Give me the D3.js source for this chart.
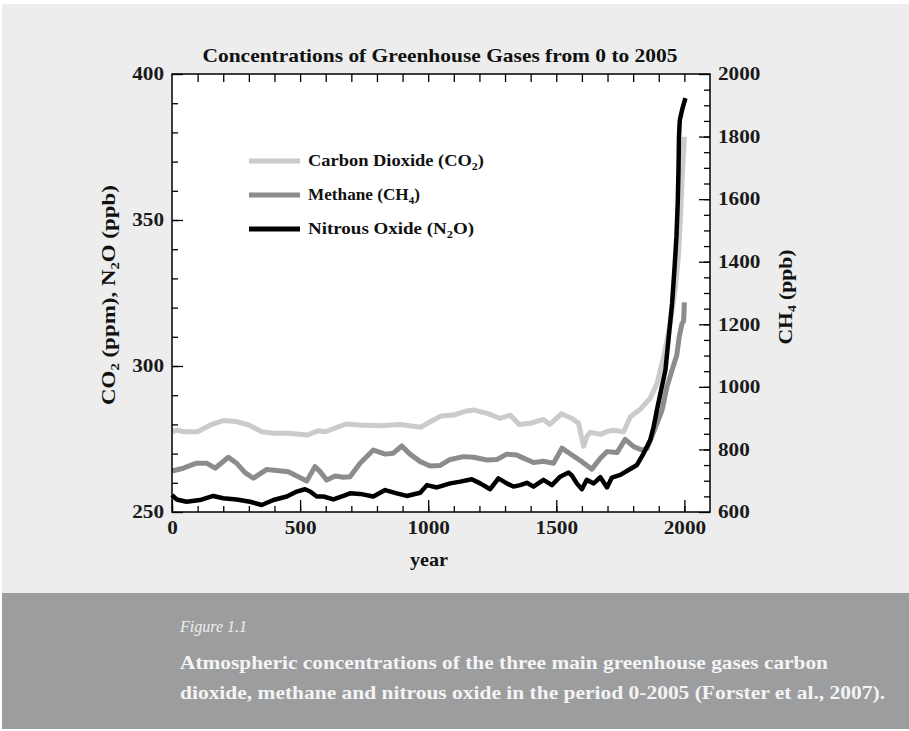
<!DOCTYPE html>
<html>
<head>
<meta charset="utf-8">
<script src="https://cdn.jsdelivr.net/npm/d3@7"></script>
<style>
  body { margin: 0; background: #ffffff; }
  svg { display: block; }
  .serif { font-family: "Liberation Serif", "DejaVu Serif", serif; }
</style>
</head>
<body>
<div id="chart"></div>
<script>
// CO2 in ppm (left axis)
const co2Years = [0,20,50,100,150,200,250,300,350,400,450,500,530,570,600,650,680,730,810,890,970,1010,1050,1100,1150,1180,1230,1280,1320,1355,1400,1450,1475,1520,1560,1587,1600,1607,1620,1632,1672,1700,1724,1763,1789,1828,1867,1893,1906,1919,1945,1965,1978,1984,1991,2000];
const co2Values = [277.5,278,277.5,277.5,279.8,281.3,281,279.8,277.5,277,277,276.6,276.4,277.8,277.5,279.2,280.1,279.8,279.5,280,279,281,282.9,283.2,284.6,284.9,283.8,282.1,283.2,280,280.4,281.7,280,283.6,282.1,280.4,275,272.5,276,277.3,276.6,277.6,278,277.5,282.6,285.2,289,294,298.6,303,314.7,327,338.7,350,363.7,378.5];

// CH4 in ppb (right axis)
const ch4Years = [0,44,96,135,168,220,252,285,318,370,409,454,493,526,558,578,604,637,669,695,734,786,832,864,897,929,969,1008,1047,1086,1138,1177,1229,1268,1307,1346,1359,1411,1450,1489,1522,1561,1600,1639,1672,1698,1737,1769,1802,1834,1854,1873,1893,1913,1932,1952,1970,1980,1991,1997,2000];
const ch4Values = [731,740,756,756,740,775,756,726,708,736,733,729,713,699,745,729,702,715,711,713,756,798,785,788,811,785,761,747,749,768,777,775,766,768,785,782,777,758,762,756,804,782,761,737,772,793,790,832,809,798,803,841,883,926,1000,1054,1100,1160,1203,1210,1270];

// N2O in ppb (left axis)
const n2oYears = [0,18,57,109,161,200,252,305,350,396,448,487,519,539,565,591,630,669,695,734,786,832,877,916,969,995,1034,1086,1125,1170,1203,1242,1274,1307,1333,1359,1385,1411,1450,1483,1515,1548,1561,1580,1600,1619,1646,1672,1698,1717,1750,1782,1815,1841,1867,1880,1893,1926,1939,1952,1961,1969,1974,1977,1979,1982,1991,2004];
const n2oValues = [255.8,254.3,253.5,254.1,255.5,254.7,254.3,253.5,252.4,254.1,255.3,257,257.8,257,255.3,255.3,254.3,255.5,256.4,256.2,255.3,257.5,256.4,255.5,256.6,259.2,258.4,259.8,260.4,261.2,259.8,257.8,261.5,259.8,258.7,259.2,260,258.7,261,259.2,262.1,263.5,262.5,259.8,257.8,261,259.8,261.9,258.4,261.8,262.7,264.4,266.1,270.1,274.7,279.2,285,298.6,310,321.5,332.9,344.3,355.7,367.1,378.5,384.2,387.7,391.7];

const seriesNames = ['Carbon Dioxide (CO|2|)', 'Methane (CH|4|)', 'Nitrous Oxide (N|2|O)'];
const seriesColors = ['#cbcbcb', '#8c8c8c', '#000000'];

const titleText = 'Concentrations of Greenhouse Gases from 0 to 2005';
const xLabels = [0, 500, 1000, 1500, 2000];
const leftLabels = [250, 300, 350, 400];
const rightLabels = [600, 800, 1000, 1200, 1400, 1600, 1800, 2000];
const figureLabel = 'Figure 1.1';
const captionLines = [
  'Atmospheric concentrations of the three main greenhouse gases carbon',
  'dioxide, methane and nitrous oxide in the period 0-2005 (Forster et al., 2007).'
];

const W = 909, H = 731;
const margin = { top: 74, right: 199, bottom: 219, left: 172 };
const width = W - margin.left - margin.right;
const height = H - margin.top - margin.bottom;

const svg = d3.select('#chart').append('svg')
  .attr('width', W).attr('height', H)
  .attr('class', 'serif');

// stretch text to the width the wider book face takes
const fit = (sel, len) => sel.attr('textLength', len).attr('lengthAdjust', 'spacingAndGlyphs');

// backgrounds
svg.append('rect').attr('x', 2).attr('y', 4).attr('width', W - 2).attr('height', 589).attr('fill', '#ecedec');
svg.append('rect').attr('x', 2).attr('y', 593).attr('width', W - 2).attr('height', 136).attr('fill', '#9c9d9f');

const chart = svg.append('g').attr('transform', `translate(${margin.left},${margin.top})`);
chart.append('rect').attr('width', width).attr('height', height).attr('fill', '#ffffff');

const x = d3.scaleLinear().domain([0, 2100]).range([0, width]);
const yL = d3.scaleLinear().domain([250, 400]).range([height, 0]);
const yR = d3.scaleLinear().domain([600, 2000]).range([height, 0]);

const styleTicks = g => {
  g.select('.domain').remove();
  g.attr('font-family', null).attr('font-size', null);
  g.selectAll('line').attr('stroke', '#000').attr('stroke-width', 1.3);
  g.selectAll('text').attr('fill', '#1a1a1a').style('font-size', '18px').style('font-weight', 'bold')
    .each(function() {
      const s = d3.select(this);
      fit(s, s.text().length * 10.6);
    });
};

// bottom
chart.append('g').attr('transform', `translate(0,${height})`)
  .call(d3.axisBottom(x).tickValues(d3.range(0, 2100, 100)).tickSize(-6).tickFormat(''))
  .call(styleTicks);
chart.append('g').attr('transform', `translate(0,${height})`)
  .call(d3.axisBottom(x).tickValues(xLabels).tickSize(-12).tickPadding(9).tickFormat(d3.format('d')))
  .call(styleTicks);
// top
chart.append('g')
  .call(d3.axisTop(x).tickValues(d3.range(100, 2100, 100)).tickSize(-8).tickFormat(''))
  .call(styleTicks);
// left
chart.append('g')
  .call(d3.axisLeft(yL).tickValues(d3.range(260, 400, 10)).tickSize(-6).tickFormat(''))
  .call(styleTicks);
chart.append('g')
  .call(d3.axisLeft(yL).tickValues(leftLabels).tickSize(-11).tickPadding(8).tickFormat(d3.format('d')))
  .call(styleTicks);
// right
chart.append('g').attr('transform', `translate(${width},0)`)
  .call(d3.axisRight(yR).tickValues(d3.range(650, 2000, 50)).tickSize(-6).tickFormat(''))
  .call(styleTicks);
chart.append('g').attr('transform', `translate(${width},0)`)
  .call(d3.axisRight(yR).tickValues(rightLabels).tickSize(-11).tickPadding(8).tickFormat(d3.format('d')))
  .call(styleTicks);

// lines
const toPts = (ys, vs) => ys.map((yr, i) => ({ year: yr, value: vs[i] }));
const series = [
  { pts: toPts(co2Years, co2Values), y: yL, w: 5 },
  { pts: toPts(ch4Years, ch4Values), y: yR, w: 5 },
  { pts: toPts(n2oYears, n2oValues), y: yL, w: 4.5 }
];
series.forEach((s, i) => {
  const line = d3.line().x(d => x(d.year)).y(d => s.y(d.value)).curve(d3.curveLinear);
  chart.append('path').datum(s.pts)
    .attr('fill', 'none')
    .attr('stroke', seriesColors[i])
    .attr('stroke-width', s.w)
    .attr('stroke-linejoin', 'round')
    .attr('d', line);
});

// frame
chart.append('rect').attr('width', width).attr('height', height)
  .attr('fill', 'none').attr('stroke', '#000').attr('stroke-width', 1.5);

// text with subscripts: parts split by '|', odd parts are subscripts
function subText(sel, str, subSize) {
  str.split('|').forEach((p, i) => {
    if (!p) return;
    if (i % 2 === 1) {
      sel.append('tspan').attr('dy', 4).style('font-size', subSize).text(p);
    } else {
      sel.append('tspan').attr('dy', i === 0 ? 0 : -4).text(p);
    }
  });
}

// legend
const legendWidths = [176, 112, 166];
const legend = chart.append('g');
seriesNames.forEach((name, i) => {
  const ly = 87 + i * 34;
  legend.append('line').attr('x1', 77).attr('x2', 128).attr('y1', ly).attr('y2', ly)
    .attr('stroke', seriesColors[i]).attr('stroke-width', 5);
  const t = legend.append('text').attr('x', 136).attr('y', ly + 5)
    .style('font-size', '17px').style('font-weight', 'bold').attr('fill', '#111');
  subText(t, name, '11px');
  fit(t, legendWidths[i]);
});

// title
svg.append('text').attr('x', 440).attr('y', 62).attr('text-anchor', 'middle')
  .style('font-size', '19px').style('font-weight', 'bold').attr('fill', '#111')
  .text(titleText)
  .call(fit, 475);

// axis titles
svg.append('text').attr('x', 429).attr('y', 566).attr('text-anchor', 'middle')
  .style('font-size', '19px').style('font-weight', 'bold').attr('fill', '#111').text('year')
  .call(fit, 38);

const lt = svg.append('text').attr('transform', 'translate(115,295) rotate(-90)')
  .attr('text-anchor', 'middle')
  .style('font-size', '19px').style('font-weight', 'bold').attr('fill', '#111');
subText(lt, 'CO|2| (ppm), N|2|O (ppb)', '12px');
fit(lt, 220);

const rt = svg.append('text').attr('transform', 'translate(792,297) rotate(-90)')
  .attr('text-anchor', 'middle')
  .style('font-size', '19px').style('font-weight', 'bold').attr('fill', '#111');
subText(rt, 'CH|4| (ppb)', '12px');
fit(rt, 95);

// caption
svg.append('text').attr('x', 180).attr('y', 632)
  .style('font-size', '16px').style('font-style', 'italic').attr('fill', '#eeeeee')
  .text(figureLabel)
  .call(fit, 67);
const captionWidths = [648, 705];
captionLines.forEach((l, i) => {
  svg.append('text').attr('x', 180).attr('y', 669 + i * 30)
    .style('font-size', '19px').style('font-weight', 'bold').attr('fill', '#f4f4f4')
    .text(l)
    .call(fit, captionWidths[i]);
});
</script>
</body>
</html>
